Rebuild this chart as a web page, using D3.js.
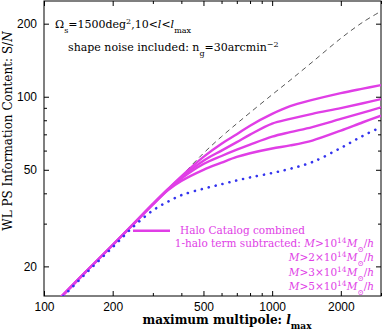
<!DOCTYPE html>
<html>
<head>
<meta charset="utf-8">
<script src="https://cdn.jsdelivr.net/npm/d3@7.9.0/dist/d3.min.js"></script>
<style>
  body { margin: 0; background: #fff; }
  svg { display: block; }
  text { font-family: "DejaVu Serif", serif; }
  .tick text { font-family: "Liberation Sans", Arial, sans-serif; font-size: 12px; fill: #000; }
</style>
</head>
<body>
<svg id="chart" width="383" height="332"></svg>
<script>
// multipole grid
const ell = [110, 150, 200, 250, 300, 350, 400, 500, 600, 700, 800, 1000, 1200, 1500, 2000, 2500, 3000];
// S/N values
const fullPS  = [13.9, 18.7, 24.5, 30.3, 36.1, 41.7, 47.2, 58.5, 68.5, 77.5, 86, 102, 117, 139, 174, 203, 225];
const subM1   = [13.9, 18.7, 24.5, 30.3, 36.1, 41.7, 47, 56.5, 64, 70, 76, 85, 91.5, 97, 103.5, 108, 111.7];
const subM2   = [13.9, 18.7, 24.5, 30.3, 36.1, 41.6, 46.5, 54.5, 60, 65, 69.8, 77.5, 81, 85, 89.8, 94, 97.8];
const subM3   = [13.9, 18.7, 24.5, 30.3, 36.1, 41.5, 46, 52.8, 57, 60.5, 63.5, 68.5, 71.5, 75, 81, 86, 90.4];
const subM5   = [13.9, 18.7, 24.5, 30.3, 36.0, 41.3, 45, 50, 53.5, 56.5, 58.5, 61.2, 63, 66, 72.5, 78.5, 83.5];
const dotted  = [13.7, 18.4, 24, 29.5, 34, 37, 39.3, 41.8, 43.6, 45.2, 46.5, 48.5, 50.5, 53.8, 61.5, 69, 75];

const xMajor = [100, 200, 500, 1000, 2000];
const xMinor = [300, 400, 600, 700, 800, 900, 3000];
const yMajor = [20, 50, 100, 200];
const yMinor = [30, 40, 60, 70, 80, 90];

const magenta = '#e03ee6';
const blue = '#3434ee';

const svg = d3.select('#chart');
const pLeft = 44, pRight = 381, pTop = 1, pBottom = 296;

const x = d3.scaleLog().domain([100, 3000]).range([pLeft, pRight]);
const y = d3.scaleLog().domain([15.1, 248]).range([pBottom, pTop]);

svg.append('clipPath').attr('id', 'clip')
  .append('rect').attr('x', pLeft).attr('y', pTop).attr('width', pRight - pLeft).attr('height', pBottom - pTop);

// axes, ticks pointing inward
function addAxis(axis, tx, ty, values, size, labels) {
  let g = svg.append('g').attr('transform', `translate(${tx},${ty})`)
    .call(axis.tickValues(values).tickSize(-size).tickPadding(labels ? 6 : 0)
      .tickFormat(labels ? d3.format('d') : ''));
  g.select('.domain').remove();
  g.selectAll('line').attr('stroke', '#000');
  return g;
}
addAxis(d3.axisBottom(x), 0, pBottom, xMajor, 5, true);
addAxis(d3.axisBottom(x), 0, pBottom, xMinor, 3, false);
addAxis(d3.axisTop(x), 0, pTop, xMajor, 5, false);
addAxis(d3.axisTop(x), 0, pTop, xMinor, 3, false);
addAxis(d3.axisLeft(y), pLeft, 0, yMajor, 5, true).selectAll('text').attr('dx', '-1');
addAxis(d3.axisLeft(y), pLeft, 0, yMinor, 3, false);
addAxis(d3.axisRight(y), pRight, 0, yMajor, 5, false);
addAxis(d3.axisRight(y), pRight, 0, yMinor, 3, false);

svg.append('rect').attr('x', pLeft).attr('y', pTop).attr('width', pRight - pLeft).attr('height', pBottom - pTop)
  .attr('fill', 'none').attr('stroke', '#000').attr('stroke-width', 1);

const line = d3.line().x((d) => x(d[0])).y((d) => y(d[1])).curve(d3.curveCatmullRom.alpha(0.5));
const plot = svg.append('g').attr('clip-path', 'url(#clip)');

plot.append('path').attr('d', line(d3.zip(ell, fullPS)))
  .attr('fill', 'none').attr('stroke', '#444').attr('stroke-width', 0.9).attr('stroke-dasharray', '5,4');
[subM5, subM3, subM2, subM1].forEach((s) => {
  plot.append('path').attr('d', line(d3.zip(ell, s)))
    .attr('fill', 'none').attr('stroke', magenta).attr('stroke-width', 2.4);
});
plot.append('path').attr('d', line(d3.zip(ell, dotted)))
  .attr('fill', 'none').attr('stroke', blue).attr('stroke-width', 2.6)
  .attr('stroke-linecap', 'round').attr('stroke-dasharray', '0.1,7');

// annotations
svg.append('text').attr('x', 55).attr('y', 28).attr('font-size', 11)
  .html('Ω<tspan baseline-shift="sub" font-size="8">s</tspan>=1500deg<tspan baseline-shift="super" font-size="8">2</tspan>,10&lt;<tspan font-style="italic">l</tspan>&lt;<tspan font-style="italic">l</tspan><tspan baseline-shift="sub" font-size="8">max</tspan>');
svg.append('text').attr('x', 68).attr('y', 51).attr('font-size', 11)
  .html('shape noise included: n<tspan baseline-shift="sub" font-size="8">g</tspan>=30arcmin<tspan baseline-shift="super" font-size="8">−2</tspan>');

// legend
svg.append('line').attr('x1', 133).attr('x2', 170).attr('y1', 230.7).attr('y2', 230.7)
  .attr('stroke', magenta).attr('stroke-width', 2.4);
const leg = svg.append('g').attr('fill', magenta).attr('font-size', 10.5);
leg.append('text').attr('x', 180).attr('y', 234).text('Halo Catalog combined');
const mass = (k) => `<tspan font-style="italic">M</tspan>&gt;${k}10<tspan baseline-shift="super" font-size="7.5">14</tspan><tspan font-style="italic">M</tspan><tspan baseline-shift="sub" font-size="7.5">⊙</tspan>/<tspan font-style="italic">h</tspan>`;
leg.append('text').attr('x', 374).attr('y', 246.5).attr('text-anchor', 'end')
  .html('1-halo term subtracted: ' + mass(''));
['2×', '3×', '5×'].forEach((k, i) => {
  leg.append('text').attr('x', 374).attr('y', 261 + i * 14.5).attr('text-anchor', 'end').html(mass(k));
});

// axis titles
svg.append('text').attr('x', 227).attr('y', 324).attr('text-anchor', 'middle')
  .attr('font-size', 12).attr('font-weight', 'bold')
  .html('maximum multipole: <tspan font-style="italic">l</tspan><tspan baseline-shift="sub" font-size="9">max</tspan>');
svg.append('text').attr('transform', 'translate(12,131) rotate(-90)').attr('text-anchor', 'middle')
  .attr('font-size', 12)
  .html('WL PS Information Content: S/<tspan font-style="italic">N</tspan>');
</script>
</body>
</html>
